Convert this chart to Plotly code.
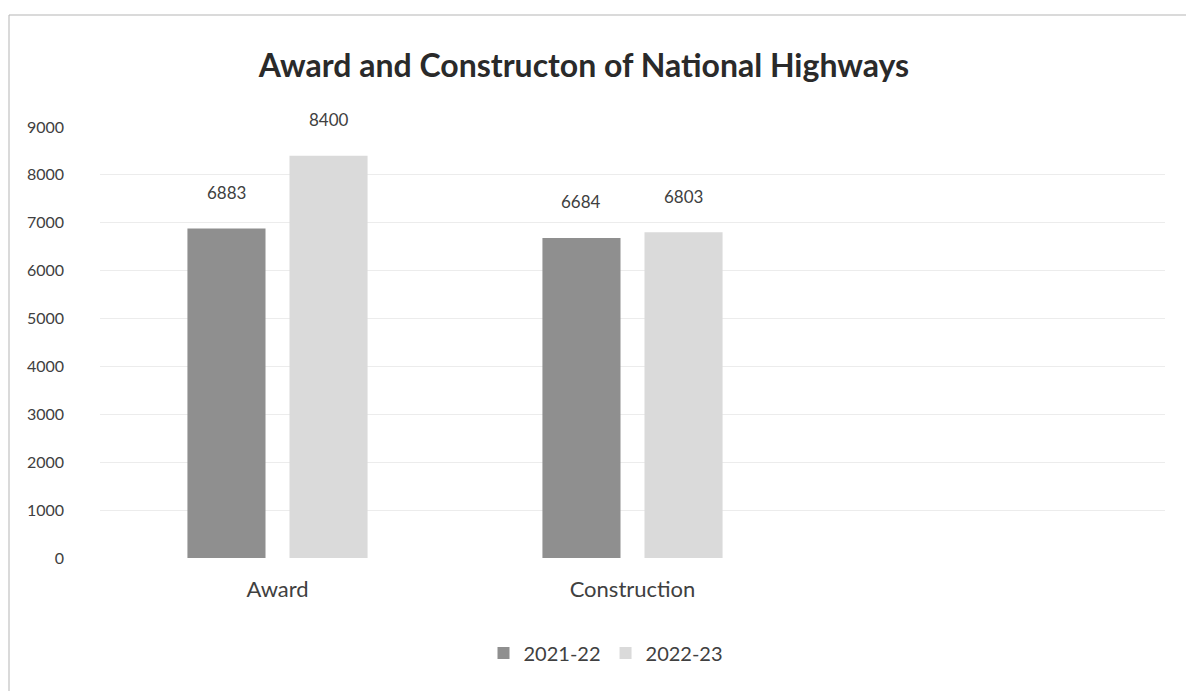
import plotly.graph_objects as go

categories = ["Award", "Construction"]
series_names = ["2021-22", "2022-23"]
values_2021_22 = [6883, 6684]
values_2022_23 = [8400, 6803]
y_ticks = [0, 1000, 2000, 3000, 4000, 5000, 6000, 7000, 8000, 9000]
title_text = "Award and Constructon of National Highways"

FONT = "Lato"
TXT = "#404040"
colors = ["#8f8f8f", "#dadada"]

W, H = 1186, 691
ml, mr, mt, mb = 100, 21, 127, 133
plot_w = W - ml - mr
plot_h = H - mt - mb

fig = go.Figure()
for name, vals, col in zip(series_names, [values_2021_22, values_2022_23], colors):
    fig.add_trace(go.Bar(
        x=categories, y=vals, name=name,
        marker=dict(color=col, line=dict(width=0)),
    ))

# data labels as annotations above each bar
cat_px = plot_w / 3.0
bargap, bargroupgap = 0.425, 0.235
slot = cat_px * (1 - bargap) / 2
for i, vals in enumerate([values_2021_22, values_2022_23]):
    shift = (i - 0.5) * slot
    for c, v in zip(categories, vals):
        fig.add_annotation(x=c, y=v, xref="x", yref="y", text=str(v),
                           showarrow=False, xshift=shift, yshift=36,
                           font=dict(family=FONT, size=17, color=TXT),
                           yanchor="middle")

fig.update_layout(
    width=W, height=H,
    margin=dict(l=ml, r=mr, t=mt, b=mb, autoexpand=False),
    paper_bgcolor="white", plot_bgcolor="white",
    barmode="group", bargap=bargap, bargroupgap=bargroupgap,
    title=dict(text="<b>" + title_text + "</b>", x=584 / W, xanchor="center", y=1 - 66 / H, yanchor="middle",
               font=dict(family=FONT, size=32, color="#2a2a2a")),
    font=dict(family=FONT, size=16, color=TXT),
    showlegend=True,
    legend=dict(orientation="h", x=(606 - ml) / plot_w, xanchor="center", y=-(653 - (H - mb)) / plot_h,
                yanchor="middle",
                font=dict(family=FONT, size=20, color=TXT), traceorder="normal"),
    shapes=[dict(type="rect", xref="paper", yref="paper",
                 x0=(9 - ml) / plot_w, x1=(W + 20 - ml) / plot_w,
                 y0=-(H + 20 - (H - mb)) / plot_h, y1=1 + (mt - 15) / plot_h,
                 line=dict(color="#b5b5b5", width=1), fillcolor="rgba(0,0,0,0)", layer="below")],
)

fig.update_xaxes(range=[-0.5, 2.5], showgrid=False, showline=False, ticks="",
                 tickfont=dict(family=FONT, size=22, color=TXT), ticklabelstandoff=16)
fig.update_yaxes(range=[0, 9000], tickvals=y_ticks, showgrid=True, gridcolor="#ececec", gridwidth=1,
                 zeroline=False, showline=False, ticks="",
                 tickfont=dict(family=FONT, size=16, color=TXT), ticklabelstandoff=35)

fig.write_html("out.html")
